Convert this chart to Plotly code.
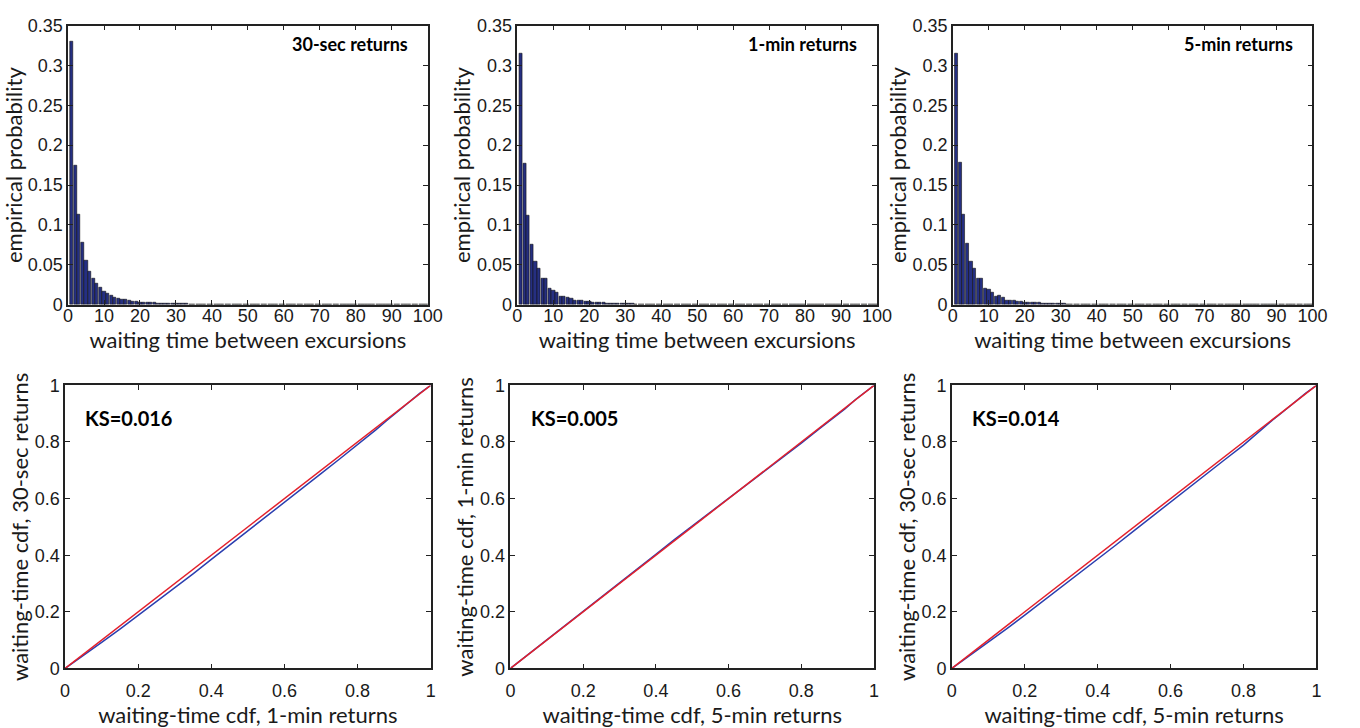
import plotly.graph_objects as go

# ---- waiting-time histograms (bins 1..100) ----
wait_bins = list(range(1, 101))

prob_30s = [
    0.330, 0.175, 0.1125, 0.078, 0.0556, 0.0414, 0.0333, 0.0264, 0.0211, 0.0170,
    0.0142, 0.0114, 0.0089, 0.0081, 0.0069, 0.0060, 0.0049, 0.0045, 0.0040, 0.0032,
    0.0031, 0.0028, 0.0025, 0.0022, 0.0019, 0.0017, 0.0015, 0.0013, 0.0012, 0.0010,
    0.0010, 0.0008, 0.0009, 0.0006, 0.0006, 0.0005, 0.0004, 0.0004, 0.0003, 0.0003,
    0.0003, 0.0002, 0.0002, 0.0002, 0.0002, 0.0001, 0.0002, 0.0001, 0.0001, 0.0001,
    0.0001, 0.0001, 0.0001, 0.0001, 0.0001, 0.0001, 0.0001, 0.0, 0.0001, 0.0,
    0.0001, 0.0, 0.0001, 0.0, 0.0, 0.0001, 0.0, 0.0, 0.0001, 0.0,
    0.0, 0.0001, 0.0, 0.0, 0.0001, 0.0, 0.0, 0.0, 0.0001, 0.0,
    0.0, 0.0, 0.0001, 0.0, 0.0, 0.0, 0.0001, 0.0, 0.0, 0.0,
    0.0001, 0.0, 0.0, 0.0, 0.0, 0.0001, 0.0, 0.0, 0.0, 0.0,
]

prob_1m = [
    0.3147, 0.1766, 0.1117, 0.0759, 0.0536, 0.0447, 0.0333, 0.0333, 0.0203, 0.0183,
    0.0154, 0.0102, 0.0102, 0.0093, 0.0081, 0.0049, 0.0053, 0.0049, 0.0040, 0.0045,
    0.0032, 0.0030, 0.0024, 0.0022, 0.0018, 0.0020, 0.0014, 0.0015, 0.0012, 0.0013,
    0.0008, 0.0009, 0.0006, 0.0007, 0.0005, 0.0006, 0.0004, 0.0003, 0.0005, 0.0003,
    0.0004, 0.0002, 0.0003, 0.0002, 0.0003, 0.0002, 0.0001, 0.0002, 0.0001, 0.0003,
    0.0002, 0.0001, 0.0, 0.0002, 0.0001, 0.0, 0.0002, 0.0001, 0.0, 0.0001,
    0.0, 0.0002, 0.0, 0.0001, 0.0, 0.0, 0.0002, 0.0, 0.0001, 0.0,
    0.0, 0.0001, 0.0, 0.0, 0.0, 0.0002, 0.0, 0.0, 0.0, 0.0,
    0.0, 0.0001, 0.0, 0.0, 0.0, 0.0001, 0.0, 0.0, 0.0, 0.0,
    0.0, 0.0, 0.0, 0.0, 0.0, 0.0, 0.0002, 0.0, 0.0, 0.0,
]

prob_5m = [
    0.3155, 0.1778, 0.1125, 0.0763, 0.0536, 0.0447, 0.0333, 0.0333, 0.0203, 0.0195,
    0.0154, 0.0102, 0.0110, 0.0093, 0.0053, 0.0053, 0.0049, 0.0040, 0.0040, 0.0032,
    0.0030, 0.0027, 0.0022, 0.0023, 0.0017, 0.0016, 0.0013, 0.0012, 0.0013, 0.0010,
    0.0009, 0.0007, 0.0007, 0.0006, 0.0005, 0.0004, 0.0005, 0.0003, 0.0003, 0.0004,
    0.0002, 0.0003, 0.0002, 0.0002, 0.0001, 0.0002, 0.0001, 0.0002, 0.0, 0.0002,
    0.0001, 0.0, 0.0002, 0.0, 0.0001, 0.0001, 0.0, 0.0002, 0.0, 0.0,
    0.0001, 0.0, 0.0, 0.0002, 0.0, 0.0001, 0.0, 0.0, 0.0, 0.0001,
    0.0, 0.0, 0.0002, 0.0, 0.0, 0.0, 0.0, 0.0001, 0.0, 0.0,
    0.0, 0.0, 0.0, 0.0001, 0.0, 0.0, 0.0, 0.0, 0.0, 0.0,
    0.0, 0.0, 0.0, 0.0, 0.0, 0.0, 0.0001, 0.0, 0.0, 0.0,
]

hist_labels = ["30-sec returns", "1-min returns", "5-min returns"]

# ---- cdf-vs-cdf comparison curves ----
cdf_grid = [0, 0.05, 0.1, 0.15, 0.2, 0.25, 0.3, 0.35, 0.4, 0.45, 0.5, 0.55,
            0.6, 0.65, 0.7, 0.75, 0.8, 0.85, 0.88, 0.9, 0.92, 0.95, 0.97, 1.0]
cdf_30s_vs_1m = [0, 0.045, 0.092, 0.139, 0.187, 0.235, 0.284, 0.334, 0.385, 0.435, 0.486, 0.536,
                 0.587, 0.637, 0.688, 0.739, 0.790, 0.843, 0.876, 0.897, 0.918, 0.950, 0.972, 1.0]
cdf_1m_vs_5m = [0, 0.050, 0.100, 0.150, 0.200, 0.250, 0.300, 0.351, 0.403, 0.454, 0.504, 0.553,
                0.601, 0.649, 0.697, 0.746, 0.796, 0.847, 0.877, 0.896, 0.917, 0.951, 0.971, 1.0]
cdf_30s_vs_5m = [0, 0.046, 0.093, 0.140, 0.188, 0.237, 0.286, 0.336, 0.386, 0.436, 0.487, 0.538,
                 0.588, 0.638, 0.688, 0.739, 0.789, 0.846, 0.878, 0.898, 0.919, 0.951, 0.972, 1.0]
diag = [0, 1]
ks_labels = ["KS=0.016", "KS=0.005", "KS=0.014"]
cdf_xtitles = ["waiting-time cdf, 1-min returns", "waiting-time cdf, 5-min returns",
               "waiting-time cdf, 5-min returns"]
cdf_ytitles = ["waiting-time cdf, 30-sec returns", "waiting-time cdf, 1-min returns",
               "waiting-time cdf, 30-sec returns"]

top_ticks = list(range(0, 101, 10))
top_yticks = [0, 0.05, 0.1, 0.15, 0.2, 0.25, 0.3, 0.35]
top_yticktext = ["0", "0.05", "0.1", "0.15", "0.2", "0.25", "0.3", "0.35"]
bot_ticks = [0, 0.2, 0.4, 0.6, 0.8, 1]
bot_ticktext = ["0", "0.2", "0.4", "0.6", "0.8", "1"]

W, H = 1360, 728
TICK_FONT = dict(family="Liberation Sans, Arial, sans-serif", size=18, color="#1a1a1a")
TITLE_FONT = dict(family="Lato, sans-serif", size=22, color="#1a1a1a")
TOP_LABEL_FONT = dict(family="Lato, sans-serif", size=18, color="#000000")
KS_FONT = dict(family="Lato, sans-serif", size=20, color="#000000")
BAR_FILL = "#252f82"
BAR_EDGE = "#111111"
AX_COLOR = "#222222"


def xdom(a, b):
    return [a / W, b / W]


def ydom(top, bottom):
    return [1 - bottom / H, 1 - top / H]


top_x = [(64, 429), (520, 885), (962, 1327)]
bot_x = [(61, 432), (513, 882), (961, 1331)]
top_y = ydom(16, 303)
bot_y = ydom(386, 677)

fig = go.Figure()
layout = {}

hist_series = [prob_30s, prob_1m, prob_5m]
for i, probs in enumerate(hist_series):
    n = i + 1
    sfx = "" if n == 1 else str(n)
    fig.add_trace(go.Bar(
        x=wait_bins, y=probs, width=0.9,
        marker=dict(color=BAR_FILL, line=dict(color=BAR_EDGE, width=0.6)),
        xaxis="x" + sfx, yaxis="y" + sfx, showlegend=False,
    ))
    layout["xaxis" + sfx] = dict(
        domain=xdom(*top_x[i]), anchor="y" + sfx, range=[0, 100],
        tickvals=top_ticks, ticks="inside", ticklen=5, tickcolor=AX_COLOR,
        showline=True, linecolor=AX_COLOR, linewidth=1.5, mirror="ticks",
        showgrid=False, zeroline=False, tickfont=TICK_FONT, ticklabelstandoff=-6,
        title=dict(text="waiting time between excursions", font=TITLE_FONT, standoff=0),
    )
    layout["yaxis" + sfx] = dict(
        domain=top_y, anchor="x" + sfx, range=[0, 0.35],
        tickvals=top_yticks, ticktext=top_yticktext, ticks="inside", ticklen=5,
        tickcolor=AX_COLOR, showline=True, linecolor=AX_COLOR, linewidth=1.5,
        mirror="ticks", showgrid=False, zeroline=False, tickfont=TICK_FONT,
        title=dict(text="empirical probability", font=TITLE_FONT, standoff=0),
    )

cdf_series = [cdf_30s_vs_1m, cdf_1m_vs_5m, cdf_30s_vs_5m]
for i, curve in enumerate(cdf_series):
    n = i + 4
    sfx = str(n)
    fig.add_trace(go.Scatter(
        x=cdf_grid, y=curve, mode="lines", line=dict(color="#2b3fb0", width=1.5),
        xaxis="x" + sfx, yaxis="y" + sfx, showlegend=False,
    ))
    fig.add_trace(go.Scatter(
        x=diag, y=diag, mode="lines", line=dict(color="#e3202b", width=1.5),
        xaxis="x" + sfx, yaxis="y" + sfx, showlegend=False,
    ))
    layout["xaxis" + sfx] = dict(
        domain=xdom(*bot_x[i]), anchor="y" + sfx, range=[0, 1],
        tickvals=bot_ticks, ticktext=bot_ticktext, ticks="inside", ticklen=5,
        tickcolor=AX_COLOR, showline=True, linecolor=AX_COLOR, linewidth=1.5,
        mirror="ticks", showgrid=False, zeroline=False, tickfont=TICK_FONT,
        ticklabelstandoff=5,
        title=dict(text=cdf_xtitles[i], font=TITLE_FONT, standoff=2),
    )
    layout["yaxis" + sfx] = dict(
        domain=bot_y, anchor="x" + sfx, range=[0, 1],
        tickvals=bot_ticks, ticktext=bot_ticktext, ticks="inside", ticklen=5,
        tickcolor=AX_COLOR, showline=True, linecolor=AX_COLOR, linewidth=1.5,
        mirror="ticks", showgrid=False, zeroline=False, tickfont=TICK_FONT,
        title=dict(text=cdf_ytitles[i], font=TITLE_FONT, standoff=0),
    )

annotations = []
for i, txt in enumerate(hist_labels):
    sfx = "" if i == 0 else str(i + 1)
    annotations.append(dict(
        text="<b>" + txt + "</b>", x=95, y=0.327, xref="x" + sfx, yref="y" + sfx,
        xanchor="right", yanchor="middle", showarrow=False, font=TOP_LABEL_FONT,
    ))
for i, txt in enumerate(ks_labels):
    sfx = str(i + 4)
    annotations.append(dict(
        text="<b>" + txt + "</b>", x=0.05, y=0.885, xref="x" + sfx, yref="y" + sfx,
        xanchor="left", yanchor="middle", showarrow=False, font=KS_FONT,
    ))

fig.update_layout(
    **layout,
    annotations=annotations,
    width=W, height=H,
    margin=dict(l=0, r=0, t=0, b=0),
    paper_bgcolor="white", plot_bgcolor="white",
    bargap=0,
)

fig.write_html("out.html")
